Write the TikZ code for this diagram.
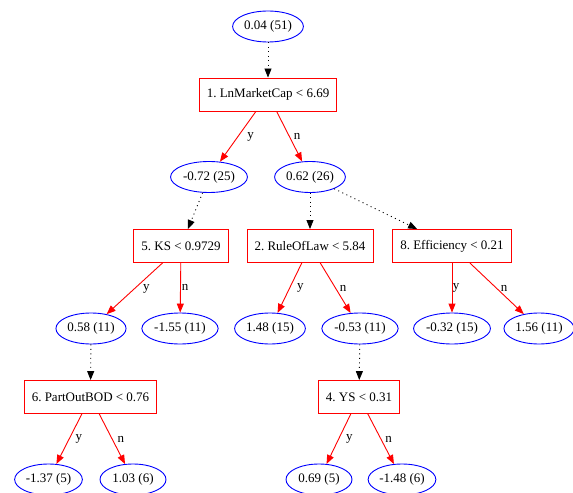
\documentclass[tikz,border=0pt]{standalone}
\usepackage{fontspec}
\setmainfont{Liberation Serif}
\frenchspacing
\usetikzlibrary{arrows.meta,shapes.geometric,positioning}

\begin{document}
\begin{tikzpicture}[x=1bp, y=-1bp, >={Triangle[length=9bp,width=7bp]},
    leaf/.style={ellipse, draw=blue, line width=0.9bp, minimum width=66bp, minimum height=31bp,
        inner xsep=1.2bp, inner ysep=0pt, font=\fontsize{13bp}{15bp}\selectfont},
    split/.style={rectangle, draw=red, line width=0.9bp, minimum height=33bp,
        inner xsep=7.5bp, font=\fontsize{13bp}{15bp}\selectfont},
    branch/.style={->, red, line width=0.9bp},
    hop/.style={->, black, line width=0.9bp, dash pattern=on 1bp off 3.5bp},
    lbl/.style={inner sep=0pt, text=black, font=\fontsize{13bp}{15bp}\selectfont}]
    \useasboundingbox (0,0) rectangle (573,493);

    % Row heights
    \def\rA{26.5}
    \def\rB{94.5}
    \def\rC{177}
    \def\rD{246}
    \def\rE{328.5}
    \def\rF{397}
    \def\rG{479.5}

    % Root and first split
    \node[leaf]  (t0) at (268,\rA) {0.04 (51)};
    \node[split] (s1) at (268,\rB) {1. LnMarketCap < 6.69};

    % Second level
    \node[leaf] (t1y) at (209,\rC) {-0.72 (25)};
    \node[leaf] (t1n) at (310,\rC) {0.62 (26)};

    \node[split] (s5) at (181,\rD) {5. KS < 0.9729};
    \node[split] (s2) at (310,\rD) {2. RuleOfLaw < 5.84};
    \node[split] (s8) at (452,\rD) {8. Efficiency < 0.21};

    % Third level
    \node[leaf] (t5y) at (91,\rE)  {0.58 (11)};
    \node[leaf] (t5n) at (180,\rE) {-1.55 (11)};
    \node[leaf] (t2y) at (270,\rE) {1.48 (15)};
    \node[leaf] (t2n) at (360,\rE) {-0.53 (11)};
    \node[leaf] (t8y) at (452,\rE) {-0.32 (15)};
    \node[leaf] (t8n) at (539,\rE) {1.56 (11)};

    \node[split] (s6) at (90.5,\rF) {6. PartOutBOD < 0.76};
    \node[split] (s4) at (359,\rF)  {4. YS < 0.31};

    % Bottom leaves
    \node[leaf] (t6y) at (48.5,\rG) {-1.37 (5)};
    \node[leaf] (t6n) at (133,\rG)  {1.03 (6)};
    \node[leaf] (t4y) at (319,\rG)  {0.69 (5)};
    \node[leaf] (t4n) at (402,\rG)  {-1.48 (6)};

    % Dotted links from a node to its split
    \draw[hop] (t0) -- (s1);
    \draw[hop] (t1y) -- (s5);
    \draw[hop] (t1n) -- (s2);
    \draw[hop] (t1n) -- (s8);
    \draw[hop] (t5y) -- (s6);
    \draw[hop] (t2n) -- (s4);

    % Yes / no branches
    \draw[branch] (s1) -- node[lbl, right=9bp] {y} (t1y);
    \draw[branch] (s1) -- node[lbl, right=4bp] {n} (t1n);
    \draw[branch] (s5) -- node[lbl, right=8bp] {y} (t5y);
    \draw[branch] (s5) -- node[lbl, right=1bp] {n} (t5n);
    \draw[branch] (s2) -- node[lbl, right=7bp] {y} (t2y);
    \draw[branch] (s2) -- node[lbl, right=4bp] {n} (t2n);
    \draw[branch] (s8) -- node[lbl, right=0.5bp] {y} (t8y);
    \draw[branch] (s8) -- node[lbl, right=3.5bp] {n} (t8n);
    \draw[branch] (s6) -- node[lbl, right=6bp] {y} (t6y);
    \draw[branch] (s6) -- node[lbl, right=5bp] {n} (t6n);
    \draw[branch] (s4) -- node[lbl, right=7bp] {y} (t4y);
    \draw[branch] (s4) -- node[lbl, right=4bp] {n} (t4n);
\end{tikzpicture}
\end{document}
